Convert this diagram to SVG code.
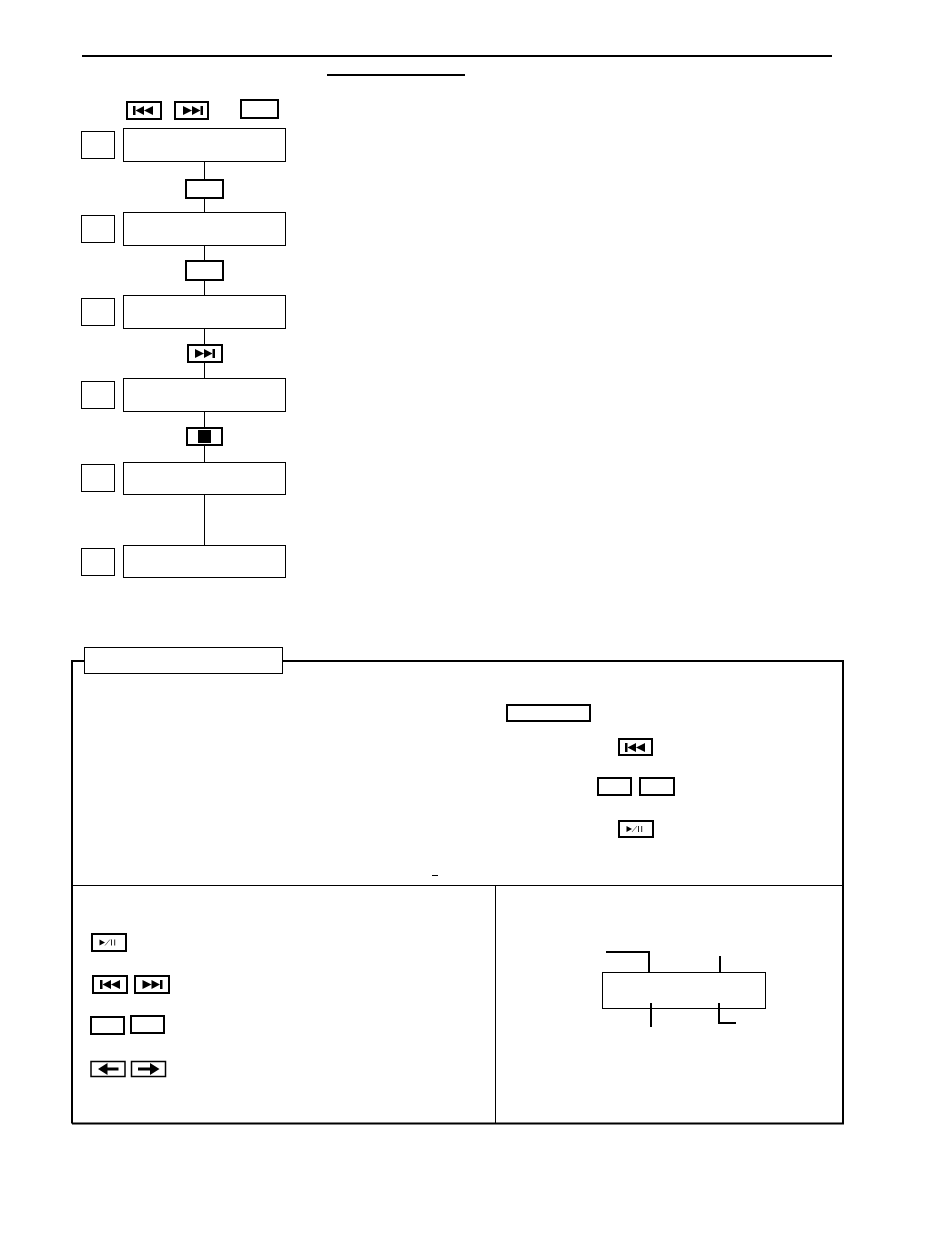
<svg xmlns="http://www.w3.org/2000/svg" width="950" height="1254" viewBox="0 0 950 1254">
<defs>
<style>
.step{fill:#fff;stroke:#000;stroke-width:1}
.btn{fill:#fff;stroke:#000;stroke-width:2}
.arw{fill:#fff;stroke:#000;stroke-width:1.500}
.con{fill:none;stroke:#000;stroke-width:1}
.rule{fill:none;stroke:#000;stroke-width:2}
.glyph{fill:#000}
</style>
<g id="g-prev"><rect x="-10" y="-4.500" width="2.500" height="9"/><path d="M-7.500 0L1-4.500V4.500ZM1 0L10-4.500V4.500Z"/></g>
<g id="g-next"><rect x="7.500" y="-4.500" width="2.500" height="9"/><path d="M7.500 0L-1-4.500V4.500ZM-1 0L-10-4.500V4.500Z"/></g>
<g id="g-play"><path d="M-8.500-3L-3 0L-8.500 3Z"/><path d="M-3 3L2-3" stroke="#555" stroke-width=".8"/><path d="M3.500-3V3M6.700-3V3" stroke="#222" stroke-width="1"/></g>
</defs>
<rect width="950" height="1254" fill="#fff"/>
<g id="header">
<path class="rule" d="M82 56H832"/>
<path class="rule" d="M327 75H465"/>
</g>
<g id="legend-top">
<rect class="btn" x="127" y="102" width="34" height="17"/><use href="#g-prev" class="glyph" x="143" y="110.500"/>
<rect class="btn" x="175" y="102" width="33" height="17"/><use href="#g-next" class="glyph" x="193" y="110.500"/>
<rect class="btn" x="241" y="100" width="37" height="18"/>
</g>
<g id="connectors">
<path class="con" d="M204.500 161V180M204.500 198V213M204.500 245V261M204.500 280V296M204.500 328V345M204.500 362V379M204.500 411V428M204.500 445V463M204.500 494V546"/>
</g>
<g id="step-1"><rect class="step" x="81.500" y="131.500" width="33" height="27"/><rect class="step" x="123.500" y="128.500" width="162" height="33"/></g>
<g id="step-2"><rect class="step" x="81.500" y="215.500" width="33" height="27"/><rect class="step" x="123.500" y="212.500" width="162" height="33"/></g>
<g id="step-3"><rect class="step" x="81.500" y="298.500" width="33" height="27"/><rect class="step" x="123.500" y="295.500" width="162" height="33"/></g>
<g id="step-4"><rect class="step" x="81.500" y="381.500" width="33" height="27"/><rect class="step" x="123.500" y="378.500" width="162" height="33"/></g>
<g id="step-5"><rect class="step" x="81.500" y="464.500" width="33" height="27"/><rect class="step" x="123.500" y="462.500" width="162" height="32"/></g>
<g id="step-6"><rect class="step" x="81.500" y="548.500" width="33" height="27"/><rect class="step" x="123.500" y="545.500" width="162" height="32"/></g>
<g id="button-1"><rect class="btn" x="186" y="180" width="37" height="18"/></g>
<g id="button-2"><rect class="btn" x="186" y="261" width="37" height="19"/></g>
<g id="button-3"><rect class="btn" x="188" y="345" width="34" height="17"/><use href="#g-next" class="glyph" x="205" y="353.500"/></g>
<g id="button-4"><rect class="btn" x="187" y="428" width="35" height="17"/><rect class="glyph" x="198" y="430" width="13" height="13"/></g>
<g id="panel">
<path class="rule" d="M72 1123.500V661H843V1123.500H72"/>
<path class="con" d="M72 885.500H843M495.500 885.500V1123"/>
<rect class="step" x="84.500" y="647.500" width="198" height="26"/>
</g>
<g id="panel-buttons">
<rect class="btn" x="507" y="705" width="83" height="16"/>
<rect class="btn" x="619" y="739" width="33" height="16"/><use href="#g-prev" class="glyph" x="635" y="747.500"/>
<rect class="btn" x="598" y="778" width="33" height="17"/>
<rect class="btn" x="640" y="778" width="34" height="17"/>
<rect class="btn" x="619" y="821" width="34" height="16"/><use href="#g-play" class="glyph" x="635" y="829"/>
<path class="con" d="M432 875.500H438"/>
</g>
<g id="key-buttons">
<rect class="btn" x="92" y="934" width="34" height="17"/><use href="#g-play" class="glyph" x="108" y="942.500"/>
<rect class="btn" x="93" y="976" width="34" height="17"/><use href="#g-prev" class="glyph" x="110" y="984.500"/>
<rect class="btn" x="135" y="976" width="34" height="17"/><use href="#g-next" class="glyph" x="152.500" y="984.500"/>
<rect class="btn" x="91" y="1017" width="33" height="17"/>
<rect class="btn" x="131" y="1016" width="33" height="17"/>
<rect class="arw" x="91" y="1061.500" width="34" height="15"/><path class="glyph" d="M98 1069L107.500 1063V1067.500H118.500V1070.500H107.500V1075Z"/>
<rect class="arw" x="131.500" y="1061.500" width="34" height="15"/><path class="glyph" d="M159.500 1069L150 1063V1067.500H138V1070.500H150V1075Z"/>
</g>
<g id="display">
<rect class="step" x="602.500" y="972.500" width="163" height="36"/>
<path class="rule" d="M606 952H649V973"/>
<path class="rule" d="M720 956V972"/>
<path class="rule" d="M651 1003V1027"/>
<path class="rule" d="M719 1003V1023H736"/>
</g>
</svg>
